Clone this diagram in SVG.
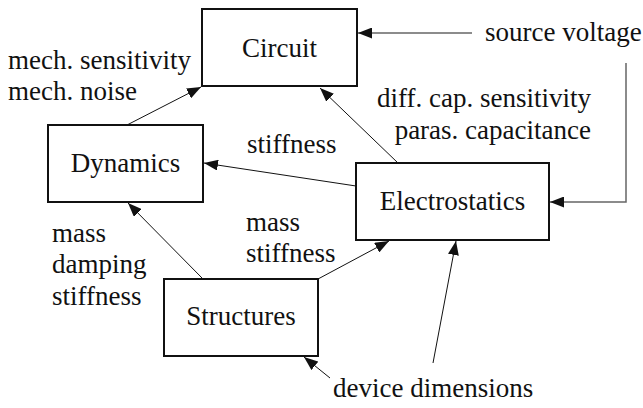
<svg xmlns="http://www.w3.org/2000/svg" width="643" height="408" viewBox="0 0 643 408">
  <style>
    text { font-family: "Liberation Serif", "Times New Roman", Tinos, "DejaVu Serif", serif; font-size: 27px; fill: #111; }
    .box rect { fill: #fff; stroke: #111; stroke-width: 2; }
    .box text { text-anchor: middle; }
    .edge { fill: none; stroke: #111; stroke-width: 1; marker-end: url(#arrow); }
    .edge.grey { stroke: #666; stroke-width: 1.5; }
  </style>
  <defs>
    <marker id="arrow" markerUnits="userSpaceOnUse" markerWidth="15" markerHeight="11" refX="14" refY="5.5" orient="auto">
      <path d="M0,0 L14,5.5 L0,11 z" fill="#111"/>
    </marker>
  </defs>

  <rect width="643" height="408" fill="#fff"/>

  <!-- connectors -->
  <g id="connectors">
    <line class="edge" x1="127" y1="125" x2="201" y2="87"/>
    <line class="edge" x1="398" y1="163" x2="320" y2="88"/>
    <line class="edge" x1="356" y1="186" x2="204" y2="163"/>
    <line class="edge" x1="203" y1="279" x2="128" y2="203"/>
    <line class="edge" x1="318" y1="279" x2="389" y2="241"/>
    <line class="edge" x1="433" y1="363" x2="456" y2="241"/>
    <line class="edge" x1="330" y1="378" x2="304" y2="357"/>
    <line class="edge grey" x1="472" y1="33" x2="358" y2="33"/>
    <polyline class="edge grey" points="626,63 626,202 550,202"/>
  </g>

  <!-- nodes -->
  <g id="circuit" class="box">
    <rect x="202" y="9" width="155" height="77"/>
    <text x="279.5" y="57">Circuit</text>
  </g>
  <g id="dynamics" class="box">
    <rect x="48" y="125" width="155" height="77"/>
    <text x="125.5" y="172">Dynamics</text>
  </g>
  <g id="electrostatics" class="box">
    <rect x="356" y="163" width="193" height="77"/>
    <text x="452.5" y="210">Electrostatics</text>
  </g>
  <g id="structures" class="box">
    <rect x="164" y="279" width="154" height="77"/>
    <text x="241" y="325">Structures</text>
  </g>

  <!-- labels -->
  <g id="labels">
    <text x="485" y="41">source voltage</text>
    <text x="8" y="69">mech. sensitivity</text>
    <text x="8" y="100">mech. noise</text>
    <text x="591" y="107" text-anchor="end">diff. cap. sensitivity</text>
    <text x="591" y="139" text-anchor="end">paras. capacitance</text>
    <text x="247" y="153">stiffness</text>
    <text x="246" y="231">mass</text>
    <text x="246" y="262">stiffness</text>
    <text x="52" y="242">mass</text>
    <text x="52" y="273">damping</text>
    <text x="52" y="305">stiffness</text>
    <text x="333" y="397">device dimensions</text>
  </g>
</svg>
